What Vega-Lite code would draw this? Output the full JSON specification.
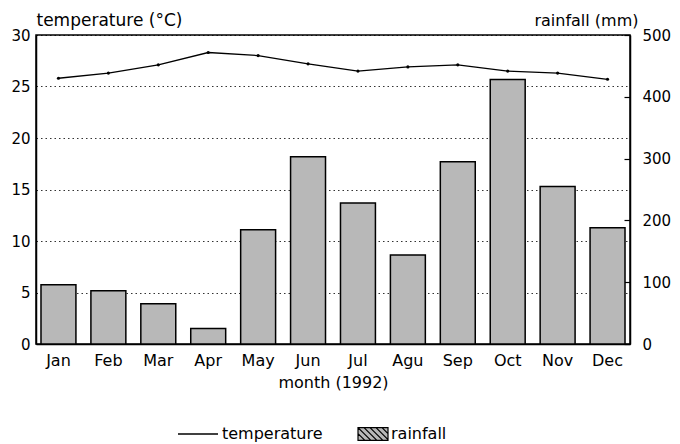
{
  "$schema": "https://vega.github.io/schema/vega-lite/v6.json",
  "width": 594,
  "height": 309,
  "autosize": {"type": "none"},
  "padding": {"left": 36, "top": 35, "right": 50, "bottom": 100},
  "config": {
    "font": "DejaVu Sans",
    "view": {"stroke": "black", "strokeWidth": 1.5},
    "axis": {"domainColor": "black", "domainWidth": 1.5, "labelColor": "black", "titleColor": "black", "tickColor": "black", "titleFontWeight": "normal"},
    "legend": {"padding": 0, "labelColor": "black", "labelFont": "DejaVu Sans"}
  },
  "data": {
    "values": [
      {"month": "Jan", "temperature": 25.8, "rainfall": 96},
      {"month": "Feb", "temperature": 26.3, "rainfall": 86},
      {"month": "Mar", "temperature": 27.1, "rainfall": 65},
      {"month": "Apr", "temperature": 28.3, "rainfall": 25},
      {"month": "May", "temperature": 28.0, "rainfall": 185},
      {"month": "Jun", "temperature": 27.2, "rainfall": 303},
      {"month": "Jul", "temperature": 26.5, "rainfall": 228},
      {"month": "Agu", "temperature": 26.9, "rainfall": 144},
      {"month": "Sep", "temperature": 27.1, "rainfall": 295},
      {"month": "Oct", "temperature": 26.5, "rainfall": 428},
      {"month": "Nov", "temperature": 26.3, "rainfall": 255},
      {"month": "Dec", "temperature": 25.7, "rainfall": 188}
    ]
  },
  "encoding": {
    "x": {
      "field": "month", "type": "nominal", "sort": null,
      "scale": {"paddingInner": 0.3, "paddingOuter": 0.1},
      "axis": {"labelAngle": 0, "labelFontSize": 16, "labelPadding": 8, "ticks": false, "title": "month (1992)", "titleFontSize": 16, "titlePadding": 6}
    }
  },
  "layer": [
    {
      "mark": {"type": "bar", "stroke": "black", "strokeWidth": 1.5},
      "encoding": {
        "y": {
          "field": "rainfall", "type": "quantitative",
          "scale": {"domain": [0, 500], "nice": false},
          "axis": {"orient": "right", "values": [0, 100, 200, 300, 400, 500], "grid": false, "tickSize": -6, "tickWidth": 1.2, "labelPadding": 18, "labelFontSize": 15, "title": "rainfall (mm)", "titleAngle": 0, "titleAlign": "right", "titleBaseline": "alphabetic", "titleX": 8, "titleY": -10, "titleFontSize": 16}
        },
        "fill": {
          "datum": "rainfall", "type": "nominal",
          "scale": {"range": ["#b8b8b8"]},
          "legend": {"title": null, "orient": "none", "legendX": 321, "legendY": 383, "symbolType": "M-1,-0.43H1V0.43H-1Z M-1,-0.03L-0.54,0.43 M-1,-0.43L-0.14,0.43 M-0.6,-0.43L0.26,0.43 M-0.2,-0.43L0.66,0.43 M0.2,-0.43L1,0.37 M0.6,-0.43L1,-0.03", "symbolSize": 900, "symbolStrokeColor": "black", "symbolStrokeWidth": 1.2, "symbolOpacity": 1, "labelFontSize": 16, "labelOffset": 2}
        }
      }
    },
    {
      "encoding": {
        "y": {
          "field": "temperature", "type": "quantitative",
          "scale": {"domain": [0, 30], "nice": false},
          "axis": {"orient": "left", "values": [0, 5, 10, 15, 20, 25, 30], "grid": true, "gridColor": "black", "gridDash": [1.5, 3], "gridWidth": 1, "gridOpacity": 0.8, "ticks": false, "labelPadding": 6, "labelFontSize": 15, "title": "temperature (°C)", "titleAngle": 0, "titleAlign": "left", "titleBaseline": "alphabetic", "titleX": 0, "titleY": -10, "titleFontSize": 17}
        }
      },
      "layer": [
        {
          "mark": {"type": "line", "strokeWidth": 1.3},
          "encoding": {
            "stroke": {
              "datum": "temperature", "type": "nominal",
              "scale": {"range": ["black"]},
              "legend": {"title": null, "orient": "none", "legendX": 141, "legendY": 378, "symbolType": "stroke", "symbolSize": 1600, "symbolStrokeWidth": 1.3, "labelFontSize": 16, "labelOffset": 3}
            }
          }
        },
        {
          "mark": {"type": "point", "filled": true, "size": 10, "color": "black", "opacity": 1},
          "encoding": {}
        }
      ]
    }
  ],
  "resolve": {"scale": {"y": "independent"}}
}
